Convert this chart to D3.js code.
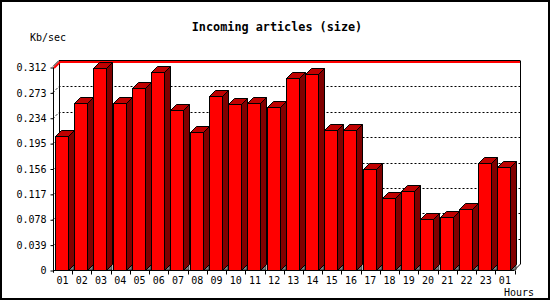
<!DOCTYPE html>
<html><head><meta charset="utf-8">
<script src="https://cdnjs.cloudflare.com/ajax/libs/d3/7.8.5/d3.min.js"></script>
<style>body{margin:0;background:#fff}svg{display:block}</style>
</head><body>
<script>
const hours = ["01","02","03","04","05","06","07","08","09","10","11","12","13","14","15","16","17","18","19","20","21","22","23","01"];
const values = [0.206,0.256,0.310,0.256,0.280,0.304,0.246,0.212,0.268,0.255,0.256,0.251,0.295,0.302,0.215,0.215,0.155,0.110,0.122,0.078,0.081,0.093,0.164,0.159];
const yTicks = [0,0.039,0.078,0.117,0.156,0.195,0.234,0.273,0.312];
const yTickLabels = ["0","0.039","0.078","0.117","0.156","0.195","0.234","0.273","0.312"];

const W=550,H=300, D=6;
const mono = "'DejaVu Sans Mono', 'Liberation Mono', monospace";
const svg = d3.select("body").append("svg").attr("width",W).attr("height",H);
svg.append("rect").attr("x",1).attr("y",1).attr("width",W-2).attr("height",H-2)
  .attr("fill","#fff").attr("stroke","#000").attr("stroke-width",2);

const y = d3.scaleLinear().domain([0,0.312]).range([270,67]);
const x = d3.scaleBand().domain(d3.range(hours.length)).range([53,514.5]).paddingInner(0).paddingOuter(0);
const step = x.step();

// back wall
const x0 = x.range()[0], x1 = x.range()[1];
const yTop = y(0.312), yBot = y(0);
svg.append("line").attr("x1",x0+D+0.5).attr("x2",x0+D+0.5).attr("y1",yTop-D).attr("y2",yBot-D).attr("stroke","#000");
svg.append("line").attr("x1",x1+D).attr("x2",x1+D).attr("y1",yTop-D).attr("y2",yBot-D).attr("stroke","#000");
svg.append("line").attr("x1",x1).attr("y1",yBot).attr("x2",x1+D).attr("y2",yBot-D).attr("stroke","#000");

// gridlines (dotted, with diagonal)
yTicks.slice(1,-1).forEach(t=>{
  const ty = Math.round(y(t))+0.5;
  svg.append("polyline")
    .attr("points",`${x0},${ty} ${x0+D},${ty-D} ${x1+D},${ty-D}`)
    .attr("fill","none").attr("stroke","#000").attr("stroke-dasharray","2,2");
});
// top border (black + red)
svg.append("polyline").attr("points",`${x0},${yTop-0.5} ${x0+D},${yTop-D-0.5} ${x1+D},${yTop-D-0.5}`)
  .attr("fill","none").attr("stroke","#000").attr("stroke-width",1);
svg.append("polyline").attr("points",`${x0+1},${yTop+1} ${x0+D+1},${yTop-D+1} ${x1+D-0.5},${yTop-D+1}`)
  .attr("fill","none").attr("stroke","#ff0000").attr("stroke-width",2);

// bars
const g = svg.append("g");
values.forEach((v,i)=>{
  const bx = Math.round(x(i)+2), bw = Math.round(step-6), by = Math.round(y(v)), b0 = yBot;
  const bar = g.append("g");
  // gray floor triangle
  bar.append("path").attr("d",`M${bx+bw},${b0} L${bx+bw+D},${b0-D} L${bx+bw+D},${b0} Z`)
    .attr("fill","#808080").attr("stroke","#000").attr("stroke-width",0.6);
  // side
  bar.append("path").attr("d",`M${bx+bw+0.5},${by+0.5} L${bx+bw+D+0.5},${by-D+0.5} L${bx+bw+D+0.5},${b0-D+0.5} L${bx+bw+0.5},${b0+0.5} Z`)
    .attr("fill","#800000").attr("stroke","#000");
  // top
  bar.append("path").attr("d",`M${bx+0.5},${by+0.5} L${bx+D+0.5},${by-D+0.5} L${bx+bw+D+0.5},${by-D+0.5} L${bx+bw+0.5},${by+0.5} Z`)
    .attr("fill","#c00000").attr("stroke","#000");
  // front
  bar.append("rect").attr("x",bx+0.5).attr("y",by+0.5).attr("width",bw).attr("height",b0-by)
    .attr("fill","#ff0000").attr("stroke","#000");
});

// y axis
const yAxis = d3.axisLeft(y).tickValues(yTicks).tickSize(3).tickPadding(4)
  .tickFormat((d,i)=>yTickLabels[i]);
const ya = svg.append("g").attr("transform",`translate(${x0+0.5},0.5)`).call(yAxis);
ya.select(".domain").attr("d",`M0,${yTop} V${yBot+2}`);
ya.selectAll("text").attr("font-family",mono).attr("font-size",10).attr("fill","#000");

// x axis
const xAxis = d3.axisBottom(x).tickSize(0).tickPadding(6).tickFormat(i=>hours[i]);
const xa = svg.append("g").attr("transform",`translate(0,${yBot+0.5})`).call(xAxis);
xa.select(".domain").attr("d",`M${x0},0 H${x1}`);
xa.selectAll("text").attr("font-family",mono).attr("font-size",10).attr("fill","#000");
xa.selectAll(".bnd").data(d3.range(hours.length+1)).enter().append("line")
  .attr("x1",i=>Math.round(x0+i*step)+0.5).attr("x2",i=>Math.round(x0+i*step)+0.5)
  .attr("y1",0).attr("y2",i=>i===0?2:4).attr("stroke","#000");

// labels
svg.append("text").attr("x",277).attr("y",31).attr("text-anchor","middle")
  .attr("font-family",mono).attr("font-weight","bold").attr("font-size",11.8).text("Incoming articles (size)");
svg.append("text").attr("x",30).attr("y",41).attr("font-family",mono).attr("font-size",10).text("Kb/sec");
svg.append("text").attr("x",504).attr("y",296).attr("font-family",mono).attr("font-size",10).text("Hours");
</script>
</body></html>
